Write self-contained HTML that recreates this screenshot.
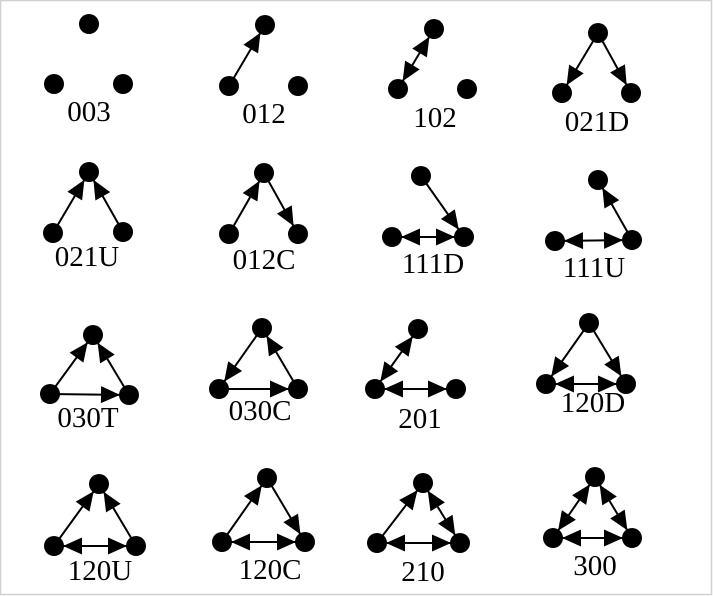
<!DOCTYPE html>
<html><head><meta charset="utf-8"><style>
html,body{margin:0;padding:0;background:#fff}
svg{display:block}
text{font-family:"Liberation Serif",serif;font-size:29px;text-anchor:middle;fill:#000}
</style></head><body>
<svg width="713" height="596" viewBox="0 0 713 596" xmlns="http://www.w3.org/2000/svg">
<defs>
<marker id="a" markerUnits="userSpaceOnUse" viewBox="-35 -10 50 20" markerWidth="50" markerHeight="20" refX="0" refY="0" orient="auto-start-reverse">
<path d="M-9,0 L-28,-8.5 L-28,8.5 z" fill="#000"/>
</marker>
</defs>
<rect x="0.5" y="0.5" width="711" height="594" fill="#fff" stroke="#d0d0d0" stroke-width="1.5"/>
<g stroke="#000" stroke-width="2" fill="none">
<line x1="229" y1="86" x2="265" y2="25" marker-end="url(#a)"/>
<line x1="398" y1="89" x2="434" y2="29" marker-start="url(#a)" marker-end="url(#a)"/>
<line x1="598" y1="33" x2="562" y2="93" marker-end="url(#a)"/>
<line x1="598" y1="33" x2="631" y2="93" marker-end="url(#a)"/>
<line x1="53" y1="233" x2="89" y2="172" marker-end="url(#a)"/>
<line x1="123" y1="232" x2="89" y2="172" marker-end="url(#a)"/>
<line x1="229" y1="234" x2="264" y2="173" marker-end="url(#a)"/>
<line x1="264" y1="173" x2="298" y2="234" marker-end="url(#a)"/>
<line x1="392" y1="237" x2="464" y2="237" marker-start="url(#a)" marker-end="url(#a)"/>
<line x1="421" y1="176" x2="464" y2="237" marker-end="url(#a)"/>
<line x1="555" y1="241" x2="632" y2="240" marker-start="url(#a)" marker-end="url(#a)"/>
<line x1="632" y1="240" x2="598" y2="180" marker-end="url(#a)"/>
<line x1="50" y1="394" x2="93" y2="335" marker-end="url(#a)"/>
<line x1="129" y1="395" x2="93" y2="335" marker-end="url(#a)"/>
<line x1="50" y1="394" x2="129" y2="395" marker-end="url(#a)"/>
<line x1="262" y1="328" x2="219" y2="389" marker-end="url(#a)"/>
<line x1="298" y1="389" x2="262" y2="328" marker-end="url(#a)"/>
<line x1="219" y1="389" x2="298" y2="389" marker-end="url(#a)"/>
<line x1="375" y1="389" x2="418" y2="329" marker-start="url(#a)" marker-end="url(#a)"/>
<line x1="375" y1="389" x2="456" y2="389" marker-start="url(#a)" marker-end="url(#a)"/>
<line x1="589" y1="323" x2="546" y2="384" marker-end="url(#a)"/>
<line x1="589" y1="323" x2="626" y2="384" marker-end="url(#a)"/>
<line x1="546" y1="384" x2="626" y2="384" marker-start="url(#a)" marker-end="url(#a)"/>
<line x1="54" y1="546" x2="99" y2="484" marker-end="url(#a)"/>
<line x1="136" y1="546" x2="99" y2="484" marker-end="url(#a)"/>
<line x1="54" y1="546" x2="136" y2="546" marker-start="url(#a)" marker-end="url(#a)"/>
<line x1="222" y1="542" x2="267" y2="478" marker-end="url(#a)"/>
<line x1="267" y1="478" x2="305" y2="542" marker-end="url(#a)"/>
<line x1="222" y1="542" x2="305" y2="542" marker-start="url(#a)" marker-end="url(#a)"/>
<line x1="377" y1="543" x2="423" y2="483" marker-end="url(#a)"/>
<line x1="423" y1="483" x2="460" y2="543" marker-start="url(#a)" marker-end="url(#a)"/>
<line x1="377" y1="543" x2="460" y2="543" marker-start="url(#a)" marker-end="url(#a)"/>
<line x1="553" y1="538" x2="595" y2="477" marker-start="url(#a)" marker-end="url(#a)"/>
<line x1="632" y1="538" x2="595" y2="477" marker-start="url(#a)" marker-end="url(#a)"/>
<line x1="553" y1="538" x2="632" y2="538" marker-start="url(#a)" marker-end="url(#a)"/>
</g>
<g fill="#000">
<circle cx="89" cy="24" r="10"/><circle cx="54" cy="84" r="10"/><circle cx="123" cy="84" r="10"/>
<circle cx="265" cy="25" r="10"/><circle cx="229" cy="86" r="10"/><circle cx="298" cy="86" r="10"/>
<circle cx="434" cy="29" r="10"/><circle cx="398" cy="89" r="10"/><circle cx="467" cy="89" r="10"/>
<circle cx="598" cy="33" r="10"/><circle cx="562" cy="93" r="10"/><circle cx="631" cy="93" r="10"/>
<circle cx="89" cy="172" r="10"/><circle cx="53" cy="233" r="10"/><circle cx="123" cy="232" r="10"/>
<circle cx="264" cy="173" r="10"/><circle cx="229" cy="234" r="10"/><circle cx="298" cy="234" r="10"/>
<circle cx="421" cy="176" r="10"/><circle cx="392" cy="237" r="10"/><circle cx="464" cy="237" r="10"/>
<circle cx="598" cy="180" r="10"/><circle cx="555" cy="241" r="10"/><circle cx="632" cy="240" r="10"/>
<circle cx="93" cy="335" r="10"/><circle cx="50" cy="394" r="10"/><circle cx="129" cy="395" r="10"/>
<circle cx="262" cy="328" r="10"/><circle cx="219" cy="389" r="10"/><circle cx="298" cy="389" r="10"/>
<circle cx="418" cy="329" r="10"/><circle cx="375" cy="389" r="10"/><circle cx="456" cy="389" r="10"/>
<circle cx="589" cy="323" r="10"/><circle cx="546" cy="384" r="10"/><circle cx="626" cy="384" r="10"/>
<circle cx="99" cy="484" r="10"/><circle cx="54" cy="546" r="10"/><circle cx="136" cy="546" r="10"/>
<circle cx="267" cy="478" r="10"/><circle cx="222" cy="542" r="10"/><circle cx="305" cy="542" r="10"/>
<circle cx="423" cy="483" r="10"/><circle cx="377" cy="543" r="10"/><circle cx="460" cy="543" r="10"/>
<circle cx="595" cy="477" r="10"/><circle cx="553" cy="538" r="10"/><circle cx="632" cy="538" r="10"/>
</g>
<text x="89" y="121">003</text>
<text x="264" y="123">012</text>
<text x="435" y="127">102</text>
<text x="597" y="131">021D</text>
<text x="87" y="266">021U</text>
<text x="264" y="269">012C</text>
<text x="433" y="273">111D</text>
<text x="594" y="277">111U</text>
<text x="88" y="427">030T</text>
<text x="260" y="420">030C</text>
<text x="420" y="428">201</text>
<text x="593" y="412">120D</text>
<text x="100" y="580">120U</text>
<text x="270" y="579">120C</text>
<text x="423" y="581">210</text>
<text x="595" y="575">300</text>
</svg>
</body></html>
